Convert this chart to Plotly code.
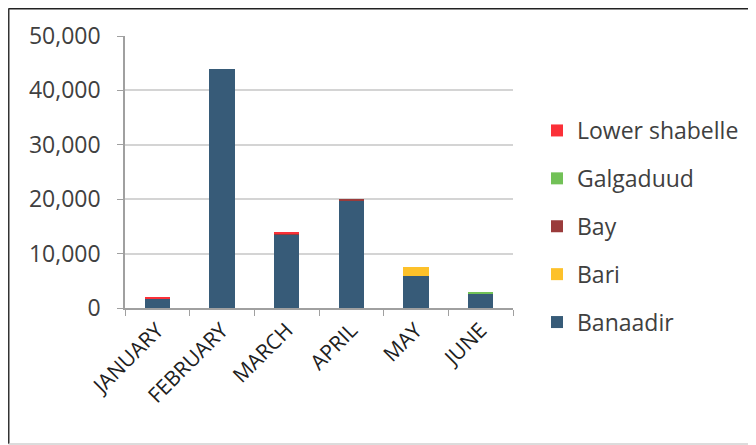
import plotly.graph_objects as go

months = ["JANUARY", "FEBRUARY", "MARCH", "APRIL", "MAY", "JUNE"]
banaadir = [1600, 43900, 13550, 19800, 5900, 2750]
bari = [0, 0, 0, 0, 1650, 0]
bay = [0, 0, 150, 200, 0, 0]
galgaduud = [0, 0, 0, 0, 0, 250]
lower_shabelle = [500, 0, 200, 0, 0, 0]

series = [
    ("Banaadir", banaadir, "#375b78", 5),
    ("Bari", bari, "#fdc12a", 4),
    ("Bay", bay, "#9a3b3b", 3),
    ("Galgaduud", galgaduud, "#72c157", 2),
    ("Lower shabelle", lower_shabelle, "#fb3038", 1),
]

FONT = "Open Sans"
# the page body has an 8px margin, so the figure sits at (8, 8) in the window
W, H = 748, 437
L, R, T, B = 117, 505, 28, 300

fig = go.Figure()
for name, vals, col, rank in series:
    fig.add_trace(go.Bar(
        x=months, y=vals, name=name, legendgroup=name, legendrank=rank,
        marker=dict(color=col, line=dict(width=0)),
    ))

def px_x(p):
    return (p - L) / (R - L)

def px_y(p):
    return (B - p) / (B - T)

shapes = [
    dict(type="line", xref="paper", yref="paper", x0=px_x(0.5), x1=px_x(760), y0=px_y(0.5), y1=px_y(0.5),
         line=dict(color="#222222", width=2)),
    dict(type="line", xref="paper", yref="paper", x0=px_x(0.5), x1=px_x(0.5), y0=px_y(0.5), y1=px_y(436),
         line=dict(color="#333333", width=2)),
    dict(type="line", xref="paper", yref="paper", x0=px_x(0.5), x1=px_x(760), y0=px_y(436), y1=px_y(436),
         line=dict(color="#d0d0d0", width=1.5)),
]

fig.update_layout(
    width=W, height=H,
    margin=dict(l=L, r=W - R, t=T, b=H - B),
    barmode="stack",
    bargap=0.61,
    paper_bgcolor="white",
    plot_bgcolor="white",
    font=dict(family=FONT, size=23, color="#404040"),
    showlegend=True,
    legend=dict(
        x=px_x(529), y=px_y(101), xanchor="left", yanchor="top",
        traceorder="grouped", tracegroupgap=15,
        font=dict(family=FONT, size=23, color="#404040"),
        bgcolor="rgba(0,0,0,0)",
    ),
    shapes=shapes,
)
fig.update_yaxes(
    range=[0, 50000], dtick=10000, tickformat=",",
    showgrid=True, gridcolor="#d4d4d4", gridwidth=2,
    showline=True, linecolor="#a0a0a0", linewidth=1.5,
    ticks="outside", ticklen=6, tickcolor="#a0a0a0",
    ticklabelstandoff=12,
    zeroline=False,
    tickfont=dict(family=FONT, size=23, color="#404040"),
)
fig.update_xaxes(
    tickangle=-45,
    showline=True, linecolor="#a0a0a0", linewidth=1.5,
    ticks="outside", ticklen=6, tickcolor="#a0a0a0", tickson="boundaries",
    showgrid=False,
    tickfont=dict(family=FONT, size=21, color="#202020"),
)

fig.write_html("out.html")
